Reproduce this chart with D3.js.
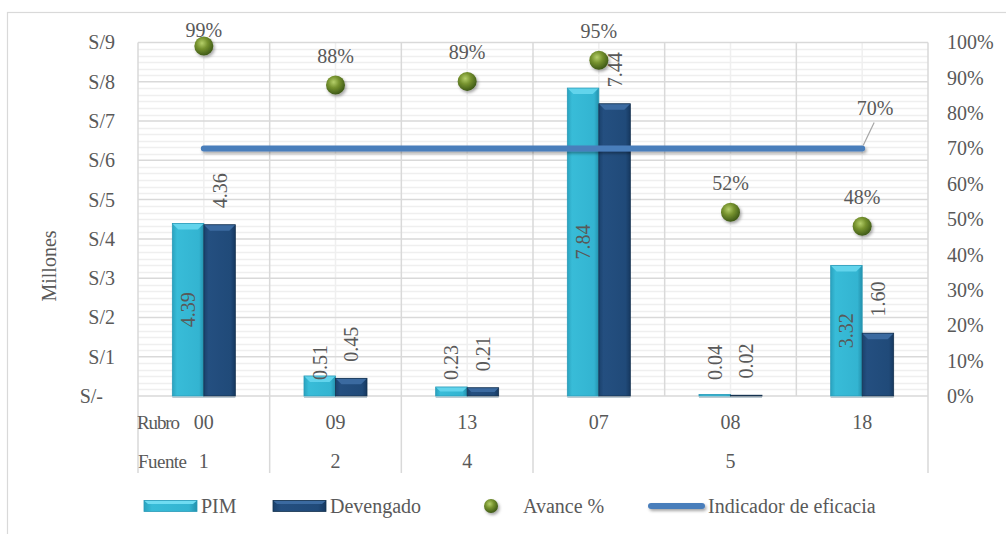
<!DOCTYPE html>
<html><head><meta charset="utf-8">
<script src="https://cdn.jsdelivr.net/npm/d3@7"></script>
<style>
html,body{margin:0;padding:0;background:#fff;}
svg text{font-family:"Liberation Serif","Times New Roman",serif !important;fill:#595959;}
</style>
</head><body>
<svg id="chart" width="1006" height="534"></svg>
<script>
// ---- data ----
const rubros = ["00","09","13","07","08","18"];
const fuentes = ["1","2","4","5"];
const fuenteSpan = [1,1,1,3];
const pim = [4.39,0.51,0.23,7.84,0.04,3.32];
const devengado = [4.36,0.45,0.21,7.44,0.02,1.60];
const avance = [0.99,0.88,0.89,0.95,0.52,0.48];
const indicador = [0.70,0.70,0.70,0.70,0.70,0.70];
const leftTicks = [0,1,2,3,4,5,6,7,8,9];
const rightTicks = [0,0.1,0.2,0.3,0.4,0.5,0.6,0.7,0.8,0.9,1.0];
const seriesNames = ["PIM","Devengado","Avance %","Indicador de eficacia"];

const svg = d3.select("#chart");
const L = 138, R = 928, T = 42.5, B = 396;
const FS = 20;

// outer border
svg.append("rect").attr("x",7.5).attr("y",12.5).attr("width",1010).attr("height",540)
  .attr("fill","none").attr("stroke","#d9d9d9").attr("stroke-width",1.2);

const defs = svg.append("defs");
function hGrad(id, stops){
  const g = defs.append("linearGradient").attr("id",id).attr("x1","0").attr("x2","1").attr("y1","0").attr("y2","0");
  stops.forEach(s=>g.append("stop").attr("offset",s[0]).attr("stop-color",s[1]));
}
hGrad("gPim",[[0,"#2aa3bf"],[0.15,"#38bcd8"],[0.85,"#33b4d1"],[1,"#2491ad"]]);
hGrad("gDev",[[0,"#1a416c"],[0.15,"#244f80"],[0.85,"#204a79"],[1,"#163860"]]);
const rg = defs.append("radialGradient").attr("id","gDot").attr("cx","0.4").attr("cy","0.35").attr("r","0.65");
rg.append("stop").attr("offset",0).attr("stop-color","#b5cf6a");
rg.append("stop").attr("offset",0.45).attr("stop-color","#77932f");
rg.append("stop").attr("offset",1).attr("stop-color","#3f5a17");
const f = defs.append("filter").attr("id","shadow").attr("filterUnits","userSpaceOnUse")
  .attr("x",0).attr("y",0).attr("width",1006).attr("height",534);
f.append("feDropShadow").attr("dx",1.5).attr("dy",2).attr("stdDeviation",1.5).attr("flood-color","#000").attr("flood-opacity",0.35);

// scales
const x = d3.scaleBand().domain(rubros).range([L,R]).paddingInner(0).paddingOuter(0);
const bw = x.bandwidth();
const xs = d3.scaleBand().domain(["PIM","Devengado"]).range([0,bw]).paddingInner(0).paddingOuter(1.09);
const y = d3.scaleLinear().domain([0,9]).range([B,T]);
const y2 = d3.scaleLinear().domain([0,1]).range([B,T]);

// grid
const grid = svg.append("g");
const minor = [];
for(let v=0; v<9; v++) for(let k=1;k<6;k++) minor.push(v+k/6);
grid.selectAll("line.mn").data(minor).join("line")
  .attr("x1",L).attr("x2",R).attr("y1",d=>Math.round(y(d))+0.5).attr("y2",d=>Math.round(y(d))+0.5)
  .attr("stroke","#efefef").attr("stroke-width",1.5);
grid.selectAll("line.vc").data(rubros).join("line")
  .attr("x1",d=>x(d)+bw/2).attr("x2",d=>x(d)+bw/2).attr("y1",T).attr("y2",B)
  .attr("stroke","#efefef").attr("stroke-width",1.5);
grid.selectAll("line.mj").data(leftTicks).join("line")
  .attr("x1",L).attr("x2",R).attr("y1",d=>y(d)).attr("y2",d=>y(d))
  .attr("stroke","#d9d9d9").attr("stroke-width",1.5);
const bounds = rubros.map(d=>x(d)).concat([R]);
grid.selectAll("line.vb").data(bounds).join("line")
  .attr("x1",d=>d).attr("x2",d=>d).attr("y1",T).attr("y2",B)
  .attr("stroke","#d9d9d9").attr("stroke-width",1.5);

// category separator lines below the axis (fuente groups)
let idx = 0; const fBounds=[0];
fuenteSpan.forEach(s=>{idx+=s; fBounds.push(idx);});
svg.append("g").selectAll("line").data(fBounds).join("line")
  .attr("x1",i=>i<rubros.length?x(rubros[i]):R).attr("x2",i=>i<rubros.length?x(rubros[i]):R)
  .attr("y1",B).attr("y2",473).attr("stroke","#d9d9d9").attr("stroke-width",1.5);

// axes
const ax = svg.append("g").attr("transform",`translate(${L},0)`)
  .call(d3.axisLeft(y).tickValues(leftTicks).tickSize(0).tickPadding(23).tickFormat(d=>d===0?"S/-":"S/"+d));
ax.attr("font-family",null);
ax.select(".domain").remove();
ax.selectAll("text").attr("font-size",FS).attr("fill",null)
  .attr("dx",d=>d===0?-12:0);

const ax2 = svg.append("g").attr("transform",`translate(${R},0)`)
  .call(d3.axisRight(y2).tickValues(rightTicks).tickSize(0).tickPadding(19).tickFormat(d3.format(".0%")));
ax2.attr("font-family",null);
ax2.select(".domain").remove();
ax2.selectAll("text").attr("font-size",FS).attr("fill",null);

const axb = svg.append("g").attr("transform",`translate(0,${B})`)
  .call(d3.axisBottom(x).tickSize(0).tickPadding(0));
axb.attr("font-family",null);
axb.select(".domain").remove();
axb.selectAll("text").attr("font-size",FS).attr("fill",null)
  .attr("y",26).attr("dy","0.35em");

// fuente row
let acc=0;
const fPos = fuenteSpan.map((s,i)=>{const a=acc; acc+=s; return (x(rubros[a]) + (a+s<rubros.length?x(rubros[a+s]):R))/2;});
svg.append("g").selectAll("text").data(fuentes).join("text")
  .attr("x",(d,i)=>fPos[i]).attr("y",461).attr("dy","0.35em").attr("text-anchor","middle")
  .attr("font-size",FS).text(d=>d);
svg.append("text").attr("x",137).attr("y",422).attr("dy","0.35em").attr("font-size",FS-1).attr("textLength",43).text("Rubro");
svg.append("text").attr("x",138).attr("y",461).attr("dy","0.35em").attr("font-size",FS-1).attr("textLength",49).text("Fuente");

// y title
svg.append("text").attr("transform","translate(49,266) rotate(-90)").attr("text-anchor","middle")
  .attr("dy","0.35em").attr("font-size",FS).text("Millones");

// bars
function drawBar(g, x0, w, v, grad, top, edge){
  const yt = y(v), h = B - yt;
  g.append("rect").attr("x",x0).attr("y",yt).attr("width",w).attr("height",h).attr("fill",`url(#${grad})`);
  const bh = Math.min(6, h/2);
  g.append("path").attr("d",`M${x0},${yt}L${x0+w},${yt}L${x0+w-bh},${yt+bh}L${x0+bh},${yt+bh}Z`).attr("fill",top);
  g.append("rect").attr("x",x0).attr("y",yt).attr("width",w).attr("height",h).attr("fill","none")
    .attr("stroke",edge).attr("stroke-width",0.8);
}
const bars = svg.append("g");
rubros.forEach((r,i)=>{
  drawBar(bars, x(r)+xs("PIM"), xs.bandwidth(), pim[i], "gPim", "#62d4ec", "#2a9bb8");
  drawBar(bars, x(r)+xs("Devengado"), xs.bandwidth(), devengado[i], "gDev", "#3b6aa0", "#15324f");
});
bars.selectAll("line.sh").data(rubros).join("line")
  .attr("x1",d=>x(d)+xs("PIM")).attr("x2",d=>x(d)+xs("Devengado")+xs.bandwidth())
  .attr("y1",B+1.5).attr("y2",B+1.5).attr("stroke","#a0b4c0").attr("stroke-width",1.2).attr("opacity",0.7);

// bar labels
const lbl = svg.append("g");
rubros.forEach((r,i)=>{
  const cx = x(r)+xs("PIM")+xs.bandwidth()/2;
  const big = pim[i] > 1;
  const ly = big ? (y(pim[i])+B)/2 : B-16;
  lbl.append("text").attr("transform",`translate(${cx},${ly}) rotate(-90)`)
    .attr("text-anchor",big?"middle":"start").attr("dy","0.35em").attr("font-size",FS)
    .text(d3.format(".2f")(pim[i]));
  const cx2 = x(r)+xs("Devengado")+xs.bandwidth()/2;
  lbl.append("text").attr("transform",`translate(${cx2},${y(devengado[i])-16.6}) rotate(-90)`)
    .attr("text-anchor","start").attr("dy","0.35em").attr("font-size",FS)
    .text(d3.format(".2f")(devengado[i]));
});

// indicador line
const line = d3.line().x((d,i)=>x(rubros[i])+bw/2).y(d=>y2(d));
svg.append("path").datum(indicador).attr("d",line).attr("fill","none")
  .attr("stroke","#4a7ebb").attr("stroke-width",6).attr("stroke-linecap","round").attr("filter","url(#shadow)");
const li = indicador.length-1;
const lx = x(rubros[li])+bw/2, lyv = y2(indicador[li]);
svg.append("line").attr("x1",lx+1).attr("y1",lyv-3).attr("x2",lx+12).attr("y2",lyv-26)
  .attr("stroke","#a6a6a6").attr("stroke-width",1.2);
svg.append("text").attr("x",lx+13).attr("y",lyv-41).attr("dy","0.35em").attr("text-anchor","middle")
  .attr("font-size",FS).text(d3.format(".0%")(indicador[li]));

// avance dots
const dots = svg.append("g");
dots.selectAll("circle").data(avance).join("circle")
  .attr("cx",(d,i)=>x(rubros[i])+bw/2).attr("cy",d=>y2(d)).attr("r",9.5)
  .attr("fill","url(#gDot)").attr("filter","url(#shadow)");
dots.selectAll("text").data(avance).join("text")
  .attr("x",(d,i)=>x(rubros[i])+bw/2).attr("y",d=>Math.max(30, y2(d)-29)).attr("dy","0.35em")
  .attr("text-anchor","middle").attr("font-size",FS).text(d=>d3.format(".0%")(d));

// legend
const lg = svg.append("g");
const LY = 506;
function legBar(x0, grad, top, edge){
  lg.append("rect").attr("x",x0).attr("y",LY-5.5).attr("width",53).attr("height",11).attr("fill",`url(#${grad})`);
  lg.append("path").attr("d",`M${x0},${LY-5.5}L${x0+53},${LY-5.5}L${x0+49},${LY-2}L${x0+4},${LY-2}Z`).attr("fill",top);
  lg.append("rect").attr("x",x0).attr("y",LY-5.5).attr("width",53).attr("height",11).attr("fill","none").attr("stroke",edge).attr("stroke-width",0.8);
}
legBar(144,"gPim","#6fdcf2","#2a9bb8");
lg.append("text").attr("x",201).attr("y",LY).attr("dy","0.35em").attr("font-size",FS).text(seriesNames[0]);
legBar(273,"gDev","#3b6aa0","#15324f");
lg.append("text").attr("x",330).attr("y",LY).attr("dy","0.35em").attr("font-size",FS).text(seriesNames[1]);
lg.append("circle").attr("cx",491).attr("cy",LY).attr("r",7).attr("fill","url(#gDot)").attr("filter","url(#shadow)");
lg.append("text").attr("x",523).attr("y",LY).attr("dy","0.35em").attr("font-size",FS).text(seriesNames[2]);
lg.append("line").attr("x1",651).attr("x2",702).attr("y1",LY).attr("y2",LY).attr("stroke","#4a7ebb")
  .attr("stroke-width",6).attr("stroke-linecap","round").attr("filter","url(#shadow)");
lg.append("text").attr("x",708).attr("y",LY).attr("dy","0.35em").attr("font-size",FS).text(seriesNames[3]);
</script>
</body></html>
